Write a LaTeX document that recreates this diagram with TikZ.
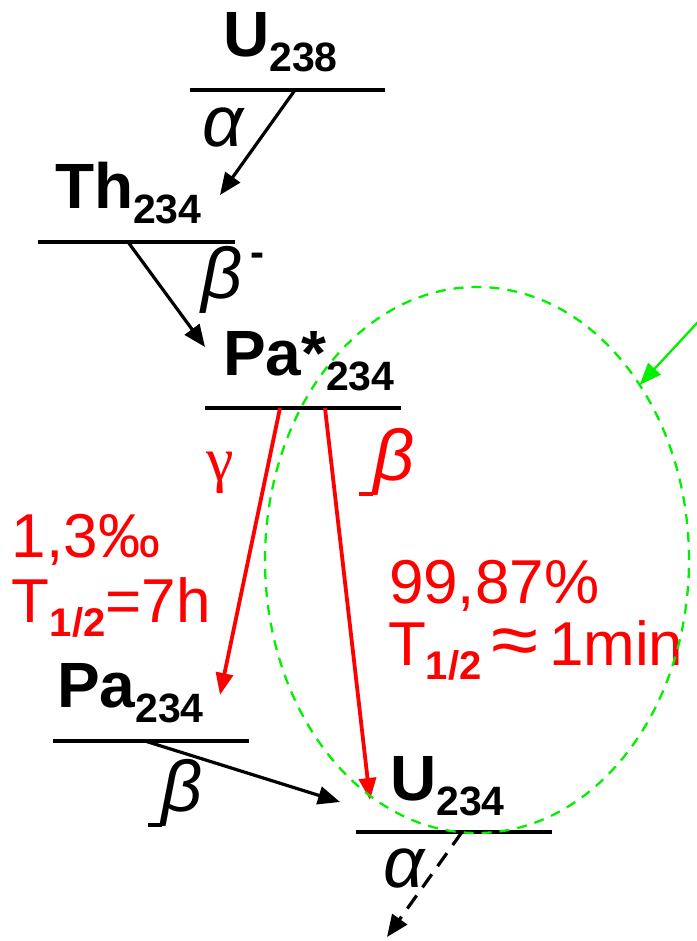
\documentclass[tikz,border=0pt]{standalone}
\usepackage{fontspec}
\setmainfont{Liberation Sans}
\newfontfamily\serifgr{Liberation Serif}
\usetikzlibrary{arrows.meta,shapes.geometric}
\definecolor{myred}{RGB}{255,0,0}
\definecolor{mygreen}{RGB}{0,240,0}
\newcommand{\lvlname}[2]{{\fontsize{64}{64}\selectfont\bfseries #1}\raisebox{-15pt}{\fontsize{41}{41}\selectfont\bfseries #2}}
\newcommand{\halft}[1]{T\raisebox{-14pt}{\fontsize{40}{40}\selectfont\bfseries 1/2}#1}
\begin{document}
\begin{tikzpicture}[x=1pt,y=-1pt,
  levelline/.style={line width=3.5pt},
  lbl/.style={anchor=base west,inner sep=0pt,outer sep=0pt},
  arr/.style={line width=3.2pt,-{Triangle[length=22pt,width=18pt]}},
  redarr/.style={line width=3.8pt,myred,-{Triangle[length=22pt,width=17pt]}},
  redtxt/.style={lbl,text=myred,font=\fontsize{62}{62}\selectfont},
  greek/.style={lbl,font=\fontsize{72}{72}\selectfont\itshape}]
\useasboundingbox (0,0) rectangle (696,941);
% level lines
\coordinate (l1a) at (190,90);  \coordinate (l1b) at (385,90);
\coordinate (l2a) at (38,242);  \coordinate (l2b) at (235,242);
\coordinate (l3a) at (205,408); \coordinate (l3b) at (401,408);
\coordinate (l4a) at (53,741);  \coordinate (l4b) at (249,741);
\coordinate (l5a) at (356,832); \coordinate (l5b) at (552,832);
\foreach \i in {1,...,5} {\draw[levelline] (l\i a) -- (l\i b);}
% labels
\node[lbl] (U238) at (223,57) {\lvlname{U}{238}};
\node[lbl] (Th234) at (55,208) {\lvlname{Th}{234}};
\node[lbl] (PaX) at (223,375) {\lvlname{Pa*}{234}};
\node[lbl] (Pa234) at (57,707) {\lvlname{Pa}{234}};
\node[lbl] (U234) at (390,800) {\lvlname{U}{234}};
% greek
\node[greek] (alpha1) at (202,147) {α};
\node[greek] (beta1) at (201,298) {β\hspace{8pt}\raisebox{32pt}{\fontsize{42}{42}\selectfont\upshape\bfseries -}};
\node[greek,text=myred] (beta2) at (373,480) {β};
\node[greek] (beta3) at (161,811) {β};
\node[greek] (alpha2) at (383,887) {α};
\node[lbl,text=myred,font=\fontsize{62}{62}\selectfont\serifgr] (gamma) at (206,480) {γ};
\draw[myred,line width=4pt] (359,494) -- (373,494);
\draw[black,line width=4pt] (148,825) -- (162,825);
% red texts
\node[redtxt] (br1) at (12,557) {1,3‰};
\node[redtxt] (t1) at (12,622) {\halft{=7h}};
\node[redtxt] (br2) at (389,603) {99,87\%};
\node[redtxt] (t2) at (388,665) {\halft{\,\smash{\scalebox{1.38}[1.2]{≈}}\,1min}};
% arrows
\coordinate (s1) at (295,90);  \coordinate (e1) at (220,195);
\coordinate (s2) at (128,242); \coordinate (e2) at (205,347);
\coordinate (s3) at (280,408); \coordinate (e3) at (220,695);
\coordinate (s4) at (325,408); \coordinate (e4) at (370,800);
\coordinate (s5) at (145,741); \coordinate (e5) at (340,802);
\coordinate (s6) at (462,832); \coordinate (e6) at (387,937);
\draw[arr] (s1) -- (e1);
\draw[arr] (s2) -- (e2);
\draw[redarr] (s3) -- (e3);
\draw[redarr] (s4) -- (e4);
\draw[arr] (s5) -- (e5);
\draw[arr,dash pattern=on 16pt off 10pt] (s6) -- (e6);
% green ellipse and pointer
\node[draw=mygreen,line width=2.3pt,dash pattern=on 10pt off 8pt,ellipse,inner sep=0pt,outer sep=0pt,minimum width=424pt,minimum height=546pt] (zone) at (477,560) {};
\coordinate (gs) at (698,322);
\draw[mygreen,line width=2.3pt,-{Triangle[length=22pt,width=17pt]}] (gs) -- (zone);
\end{tikzpicture}
\end{document}
